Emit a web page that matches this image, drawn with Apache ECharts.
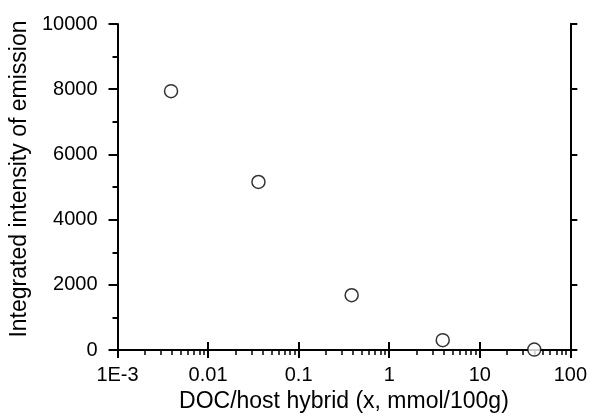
<!DOCTYPE html>
<html><head><meta charset="utf-8">
<script src="https://cdn.jsdelivr.net/npm/echarts@6/dist/echarts.min.js"></script>
<style>html,body{margin:0;padding:0;background:#fff}#c{width:590px;height:418px}</style>
</head><body><div id="c"></div>
<script>
const xValues = [0.0039, 0.036, 0.385, 3.9, 40];
const yValues = [7940, 5155, 1683, 304, 15];
const xTickLabels = ['1E-3', '0.01', '0.1', '1', '10', '100'];
const yTickLabels = ['0', '2000', '4000', '6000', '8000', '10000'];
const minorX = [];
for (let d = -3; d < 2; d++) for (let k = 2; k <= 9; k++) minorX.push(+(k * Math.pow(10, d)).toPrecision(3));

const F = 'Liberation Sans, Arial, sans-serif';
const lineS = {color: '#000', width: 2};
const chart = echarts.init(document.getElementById('c'), null, {renderer: 'canvas'});
chart.setOption({
  animation: false,
  grid: {left: 117, right: 19, top: 24, bottom: 65, containLabel: false},
  xAxis: [
    {type: 'log', logBase: 10, min: 0.001, max: 100, position: 'bottom',
     axisLine: {show: true, lineStyle: lineS},
     axisTick: {show: true, inside: false, length: 8, lineStyle: {color: '#000', width: 2}},
     axisLabel: {show: true, margin: 15, fontSize: 20, color: '#000', fontFamily: F,
       formatter: v => xTickLabels[Math.round(Math.log10(v)) + 3]},
     splitLine: {show: false}, minorTick: {show: false},
     name: 'DOC/host hybrid (x, mmol/100g)', nameLocation: 'middle', nameGap: 34,
     nameTextStyle: {fontSize: 23, color: '#000', fontFamily: F}},
    {type: 'log', logBase: 10, min: 0.001, max: 100, position: 'top',
     axisLine: {show: true, lineStyle: lineS},
     axisTick: {show: true, inside: false, length: 8, lineStyle: {color: '#000', width: 2}},
     axisLabel: {show: false}, splitLine: {show: false}},
    {type: 'log', logBase: 10, min: 0.001, max: 100, position: 'bottom',
     axisLine: {show: false},
     axisTick: {show: true, inside: false, length: 5, customValues: minorX, lineStyle: {color: '#000', width: 1.5}},
     axisLabel: {show: false}, splitLine: {show: false}}
  ],
  yAxis: [
    {type: 'value', min: 0, max: 10000, interval: 2000, position: 'left',
     axisLine: {show: true, lineStyle: lineS},
     axisTick: {show: true, inside: false, length: 9, lineStyle: {color: '#000', width: 2}},
     minorTick: {show: true, splitNumber: 2, length: 5, lineStyle: {color: '#000', width: 2}},
     axisLabel: {show: true, margin: 20, fontSize: 20, color: '#000', fontFamily: F,
       formatter: (v) => yTickLabels[Math.round(v / 2000)]},
     splitLine: {show: false},
     name: 'Integrated intensity of emission', nameLocation: 'middle', nameGap: 82,
     nameTextStyle: {fontSize: 23, color: '#000', fontFamily: F, padding: [0, 0, 0, 16]}},
    {type: 'value', min: 0, max: 10000, interval: 2000, position: 'right',
     axisLine: {show: true, lineStyle: lineS},
     axisTick: {show: true, inside: false, length: 7, lineStyle: {color: '#000', width: 2}},
     axisLabel: {show: false}, splitLine: {show: false}}
  ],
  series: [{
    type: 'scatter', xAxisIndex: 0, yAxisIndex: 0,
    data: xValues.map((x, i) => [x, yValues[i]]),
    symbol: 'circle', symbolSize: 13,
    itemStyle: {color: '#fff', borderColor: '#000', borderWidth: 1.5},
    clip: false
  }]
});
</script></body></html>
